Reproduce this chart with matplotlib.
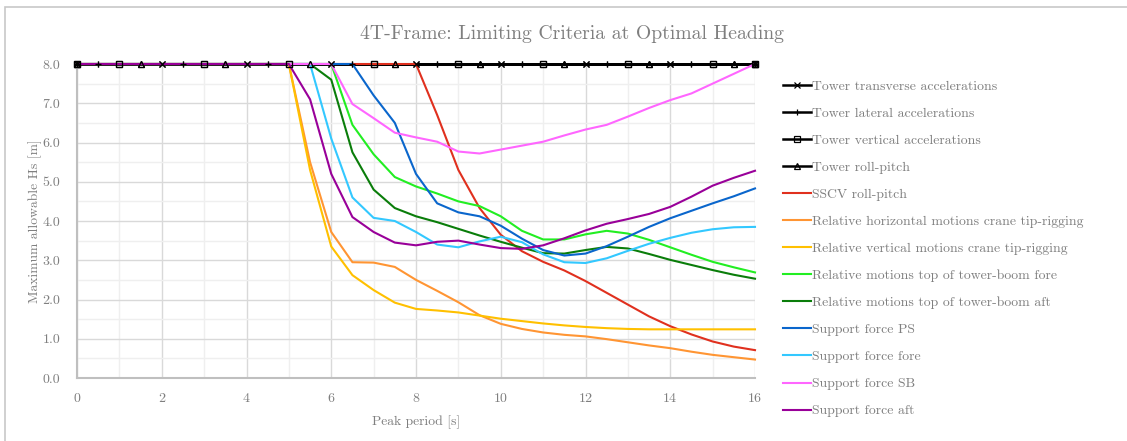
import matplotlib
matplotlib.use("Agg")
from matplotlib import pyplot as plt
from matplotlib.patches import Rectangle
from matplotlib.ticker import MultipleLocator, FormatStrFormatter

plt.rcParams['font.family'] = ['cmr10', 'DejaVu Serif']
plt.rcParams['axes.formatter.use_mathtext'] = True

# peak period [s], 0 to 16 in steps of 0.5
period = [0.0, 0.5, 1.0, 1.5, 2.0, 2.5, 3.0, 3.5, 4.0, 4.5, 5.0,
          5.5, 6.0, 6.5, 7.0, 7.5, 8.0, 8.5, 9.0, 9.5, 10.0, 10.5,
          11.0, 11.5, 12.0, 12.5, 13.0, 13.5, 14.0, 14.5, 15.0, 15.5, 16.0]

# tower criteria never limit: capped at 8 m over the whole range
tower_transverse = [8.0] * len(period)
tower_lateral = [8.0] * len(period)
tower_vertical = [8.0] * len(period)
tower_roll_pitch = [8.0] * len(period)

sscv_roll_pitch = [8.0, 8.0, 8.0, 8.0, 8.0, 8.0, 8.0, 8.0, 8.0, 8.0, 8.0,
                   8.0, 8.0, 8.0, 8.0, 8.0, 8.0, 6.7, 5.3, 4.33, 3.65, 3.23,
                   2.96, 2.74, 2.47, 2.17, 1.87, 1.57, 1.32, 1.11, 0.93, 0.80, 0.71]
rel_horizontal = [8.0, 8.0, 8.0, 8.0, 8.0, 8.0, 8.0, 8.0, 8.0, 8.0, 8.0,
                  5.5, 3.72, 2.95, 2.94, 2.83, 2.5, 2.22, 1.93, 1.6, 1.38, 1.25,
                  1.16, 1.1, 1.06, 0.99, 0.91, 0.83, 0.76, 0.67, 0.59, 0.53, 0.47]
rel_vertical = [8.0, 8.0, 8.0, 8.0, 8.0, 8.0, 8.0, 8.0, 8.0, 8.0, 8.0,
                5.3, 3.35, 2.62, 2.24, 1.92, 1.76, 1.72, 1.67, 1.59, 1.51, 1.45,
                1.39, 1.34, 1.30, 1.27, 1.25, 1.24, 1.24, 1.24, 1.24, 1.24, 1.24]
boom_fore = [8.0, 8.0, 8.0, 8.0, 8.0, 8.0, 8.0, 8.0, 8.0, 8.0, 8.0,
             8.0, 8.0, 6.45, 5.7, 5.12, 4.88, 4.7, 4.5, 4.38, 4.12, 3.75,
             3.53, 3.53, 3.66, 3.75, 3.68, 3.52, 3.33, 3.14, 2.96, 2.82, 2.69]
boom_aft = [8.0, 8.0, 8.0, 8.0, 8.0, 8.0, 8.0, 8.0, 8.0, 8.0, 8.0,
            8.0, 7.6, 5.75, 4.8, 4.33, 4.12, 3.97, 3.8, 3.63, 3.47, 3.32,
            3.18, 3.17, 3.26, 3.34, 3.3, 3.16, 3.01, 2.88, 2.75, 2.63, 2.53]
support_ps = [8.0, 8.0, 8.0, 8.0, 8.0, 8.0, 8.0, 8.0, 8.0, 8.0, 8.0,
              8.0, 8.0, 8.0, 7.2, 6.5, 5.2, 4.45, 4.22, 4.12, 3.88, 3.55,
              3.26, 3.12, 3.17, 3.36, 3.6, 3.85, 4.07, 4.26, 4.45, 4.63, 4.83]
support_fore = [8.0, 8.0, 8.0, 8.0, 8.0, 8.0, 8.0, 8.0, 8.0, 8.0, 8.0,
                8.0, 6.1, 4.6, 4.08, 4.0, 3.72, 3.4, 3.33, 3.48, 3.6, 3.46,
                3.15, 2.95, 2.93, 3.05, 3.24, 3.42, 3.57, 3.7, 3.79, 3.84, 3.85]
support_sb = [8.0, 8.0, 8.0, 8.0, 8.0, 8.0, 8.0, 8.0, 8.0, 8.0, 8.0,
              8.0, 8.0, 6.98, 6.62, 6.25, 6.13, 6.02, 5.77, 5.72, 5.82, 5.92,
              6.02, 6.18, 6.33, 6.45, 6.66, 6.88, 7.08, 7.25, 7.5, 7.75, 8.0]
support_aft = [8.0, 8.0, 8.0, 8.0, 8.0, 8.0, 8.0, 8.0, 8.0, 8.0, 8.0,
               7.1, 5.2, 4.1, 3.72, 3.45, 3.38, 3.47, 3.5, 3.4, 3.31, 3.29,
               3.38, 3.56, 3.76, 3.93, 4.05, 4.18, 4.36, 4.62, 4.9, 5.1, 5.28]

towers = [
    ("Tower transverse accelerations", tower_transverse, "x", [0, 4, 8, 12, 16, 20, 24, 28, 32]),
    ("Tower lateral accelerations", tower_lateral, "+", [0, 1, 5, 9, 13, 17, 21, 25, 29, 32]),
    ("Tower vertical accelerations", tower_vertical, "s", [0, 2, 6, 10, 14, 18, 22, 26, 30, 32]),
    ("Tower roll-pitch", tower_roll_pitch, "^", [0, 3, 7, 11, 15, 19, 23, 27, 31, 32]),
]
others = [
    ("SSCV roll-pitch", sscv_roll_pitch, "#e0301e"),
    ("Relative horizontal motions crane tip-rigging", rel_horizontal, "#ff9533"),
    ("Relative vertical motions crane tip-rigging", rel_vertical, "#ffc000"),
    ("Relative motions top of tower-boom fore", boom_fore, "#22ee22"),
    ("Relative motions top of tower-boom aft", boom_aft, "#0a7d0a"),
    ("Support force PS", support_ps, "#0a66cc"),
    ("Support force fore", support_fore, "#33c8ff"),
    ("Support force SB", support_sb, "#ff66ff"),
    ("Support force aft", support_aft, "#990099"),
]

fig = plt.figure(figsize=(11.27, 4.41), dpi=100)
fig.patches.append(Rectangle((5 / 1127, -0.05), 1.2, 1 - 7 / 441 + 0.05,
                             transform=fig.transFigure, fill=False,
                             edgecolor="#c8c8c8", linewidth=1.2))
ax = fig.add_axes([77 / 1127, 1 - 378 / 441, 678 / 1127, 314 / 441])

for name, vals, mk, every in towers:
    ax.plot(period, vals, color="black", lw=1.8, marker=mk, markevery=every,
            ms=5, mfc="none", mec="black", mew=0.9, label=name,
            zorder=2, clip_on=False)
for name, vals, col in others:
    ax.plot(period, vals, color=col, lw=1.5, label=name, zorder=3, clip_on=False)
# markers again so they sit above the coloured lines at the 8 m cap
for name, vals, mk, every in towers:
    ax.plot(period, vals, ls="none", marker=mk, markevery=every, ms=5,
            mfc="none", mec="black", mew=0.9, zorder=4, clip_on=False)

ax.set_xlim(0, 16)
ax.set_ylim(0, 8)
ax.xaxis.set_major_locator(MultipleLocator(2))
ax.xaxis.set_minor_locator(MultipleLocator(1))
ax.yaxis.set_major_locator(MultipleLocator(1))
ax.yaxis.set_minor_locator(MultipleLocator(0.5))
ax.yaxis.set_major_formatter(FormatStrFormatter("%.1f"))
ax.grid(which="major", color="#d9d9d9", lw=1.0, zorder=0)
ax.grid(which="minor", color="#efefef", lw=1.0, zorder=0)
ax.set_axisbelow(True)
ax.tick_params(which="both", length=0, labelsize=10, colors="#7f7f7f")
ax.tick_params(axis="y", pad=12)
ax.tick_params(axis="x", pad=10)
for s in ["top", "right"]:
    ax.spines[s].set_visible(False)
for s in ["left", "bottom"]:
    ax.spines[s].set_color("#bfbfbf")
    ax.spines[s].set_linewidth(1.5)

ax.set_xlabel("Peak period [s]", fontsize=9.8, color="#7f7f7f")
ax.set_ylabel("Maximum allowable Hs [m]", fontsize=9.8, color="#7f7f7f")
ax.xaxis.set_label_coords(0.5, -0.118)
ax.yaxis.set_label_coords(-0.052, 0.5)

fig.text(0.5075, 1 - 34 / 441, "4T-Frame: Limiting Criteria at Optimal Heading",
         ha="center", va="center", fontsize=14.2, color="#7f7f7f")

handles, labels = ax.get_legend_handles_labels()
leg = fig.legend(handles, labels, loc="upper left",
                 bbox_to_anchor=(783 / 1127, 1 - 80 / 441), frameon=False,
                 fontsize=9.9, handlelength=2.05, handletextpad=0.05,
                 labelspacing=1.05, borderpad=0, borderaxespad=0)
for t in leg.get_texts():
    t.set_color("#7f7f7f")

fig.savefig("out.png", dpi=100)
